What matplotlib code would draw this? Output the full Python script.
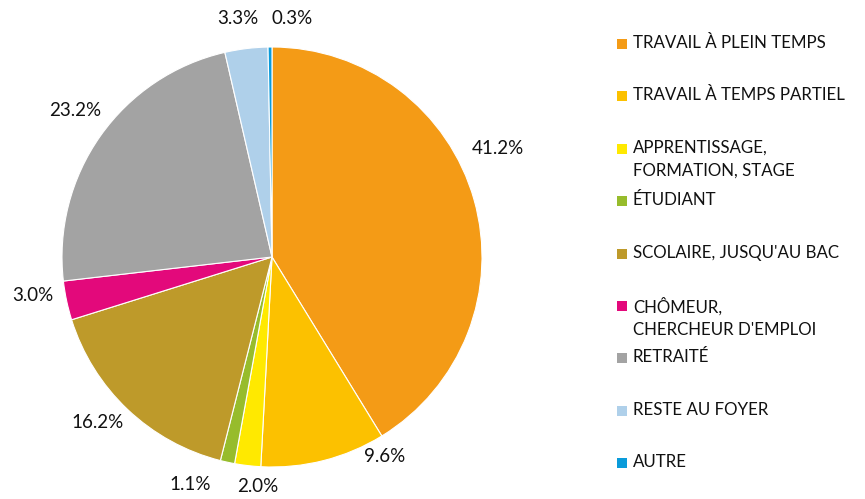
import matplotlib
matplotlib.use("Agg")
import matplotlib.pyplot as plt
from matplotlib.patches import Rectangle

plt.rcParams['font.family'] = ['Lato', 'DejaVu Sans']

categories = ["TRAVAIL À PLEIN TEMPS", "TRAVAIL À TEMPS PARTIEL",
              "APPRENTISSAGE,\nFORMATION, STAGE", "ÉTUDIANT",
              "SCOLAIRE, JUSQU'AU BAC", "CHÔMEUR,\nCHERCHEUR D'EMPLOI",
              "RETRAITÉ", "RESTE AU FOYER", "AUTRE"]
values = [41.2, 9.6, 2.0, 1.1, 16.2, 3.0, 23.2, 3.3, 0.3]
colors = ["#F49B16", "#FCC100", "#FFE900", "#97BC2C", "#BE9A2A",
          "#E3097B", "#A3A3A3", "#AFD0EA", "#0A9BDA"]
# label positions (pie radius = 1)
label_pos = [(1.076, 0.519), (0.538, -0.952), (-0.067, -1.095), (-0.390, -1.081),
             (-0.833, -0.786), (-1.138, -0.181), (-0.938, 0.700),
             (-0.162, 1.138), (0.095, 1.138)]

W, H = 865, 499
fig = plt.figure(figsize=(W / 100, H / 100), dpi=100)
cx, cy, r = 272, 257, 210
ax = fig.add_axes([(cx - r) / W, (H - cy - r) / H, 2 * r / W, 2 * r / H])
ax.pie(values, colors=colors, startangle=90, counterclock=False,
       wedgeprops=dict(edgecolor="white", linewidth=0.8), radius=1)
ax.set_xlim(-1, 1)
ax.set_ylim(-1, 1)
ax.axis('off')
for v, (x, y) in zip(values, label_pos):
    ax.text(x, y, f"{v:.1f}%", ha="center", va="center", fontsize=13.5,
            color="#111111", clip_on=False)

# legend
y0, dy = 44, 52.4
for i, (lab, c) in enumerate(zip(categories, colors)):
    yc = y0 + i * dy
    fig.patches.append(Rectangle((617 / W, 1 - (yc + 5) / H), 10 / W, 10 / H,
                                 transform=fig.transFigure, facecolor=c,
                                 edgecolor="none"))
    fig.text(633 / W, 1 - (yc - 9) / H, lab, ha="left", va="top",
             fontsize=12.2, color="#111111", linespacing=1.5)

fig.savefig("out.png", dpi=100)
